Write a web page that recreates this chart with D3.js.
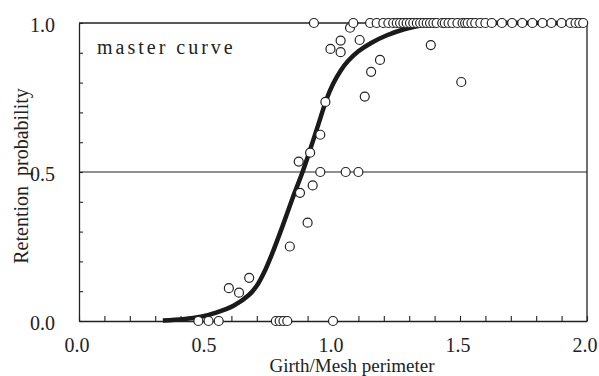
<!DOCTYPE html>
<html>
<head>
<meta charset="utf-8">
<script src="https://cdn.jsdelivr.net/npm/d3@7"></script>
<style>
	body { margin: 0; background: #fff; }
	svg { display: block; }
	text { font-family: "Liberation Serif", "Times New Roman", serif; fill: #222; }
</style>
</head>
<body>
<div id="graphic"></div>
<script>
const obsGirth = [
	0.47, 0.51, 0.55, 0.775, 0.79, 0.805, 0.82, 1.0,
	0.59, 0.63, 0.67, 0.83, 0.90, 0.87, 0.92, 0.865, 0.91,
	0.95, 1.05, 1.10,
	0.95, 0.97, 1.125, 1.15, 1.185, 1.385, 1.505, 0.99, 1.03, 1.03, 1.067, 1.105,
	0.925, 1.08, 1.146, 1.172, 1.198, 1.218, 1.237, 1.251, 1.264, 1.277, 1.29, 1.303,
	1.316, 1.33, 1.343, 1.356, 1.369, 1.382, 1.395, 1.408, 1.43, 1.44, 1.455, 1.47,
	1.49, 1.51, 1.52, 1.53, 1.545, 1.56, 1.58, 1.60, 1.625, 1.665, 1.705, 1.745,
	1.785, 1.825, 1.86, 1.90, 1.935, 1.955, 1.97, 1.985
];
const obsRetention = [
	0, 0, 0, 0, 0, 0, 0, 0,
	0.11, 0.095, 0.145, 0.25, 0.33, 0.43, 0.455, 0.535, 0.565,
	0.5, 0.5, 0.5,
	0.625, 0.735, 0.753, 0.836, 0.876, 0.926, 0.802, 0.913, 0.941, 0.902, 0.984, 0.943,
	1, 1, 1, 1, 1, 1, 1, 1, 1, 1, 1, 1,
	1, 1, 1, 1, 1, 1, 1, 1, 1, 1, 1, 1,
	1, 1, 1, 1, 1, 1, 1, 1, 1, 1, 1, 1,
	1, 1, 1, 1, 1, 1, 1, 1
];

// master curve
const curveGirth = [0.33, 0.41, 0.48, 0.54, 0.61, 0.67, 0.70, 0.73, 0.76, 0.80, 0.84, 0.88, 0.91,
	0.95, 0.975, 1.0, 1.03, 1.06, 1.10, 1.15, 1.21, 1.28, 1.34, 1.41, 1.5, 2.0];
const curveRetention = [0.002, 0.006, 0.014, 0.028, 0.052, 0.088, 0.118, 0.165, 0.225, 0.315, 0.41, 0.5, 0.575,
	0.68, 0.745, 0.795, 0.84, 0.873, 0.905, 0.933, 0.958, 0.979, 0.991, 0.997, 1.0, 1.0];

const xLabels = ["0.0", "0.5", "1.0", "1.5", "2.0"];
const yLabels = ["0.0", "0.5", "1.0"];

const width = 599, height = 376;
const margin = { top: 23, right: 12, bottom: 55, left: 79 };
const chartWidth = width - margin.left - margin.right;
const chartHeight = height - margin.top - margin.bottom;

const svg = d3.select('#graphic')
	.append('svg')
	.attr('width', width)
	.attr('height', height)
	.append('g')
	.attr('transform', 'translate(' + margin.left + ',' + margin.top + ')');

const x = d3.scaleLinear().domain([0, 2]).range([0, chartWidth]);
const y = d3.scaleLinear().domain([0, 1]).range([chartHeight, 0]);

const ink = '#222';

//frame: top and right lines plus the 0.5 reference line
svg.append('line')
	.attr('x1', 0).attr('x2', chartWidth)
	.attr('y1', y(1)).attr('y2', y(1))
	.attr('stroke', ink).attr('stroke-width', 1.3);
svg.append('line')
	.attr('x1', x(2)).attr('x2', x(2))
	.attr('y1', y(1)).attr('y2', y(0))
	.attr('stroke', ink).attr('stroke-width', 1.3);
svg.append('line')
	.attr('x1', 0).attr('x2', chartWidth)
	.attr('y1', y(0.5)).attr('y2', y(0.5))
	.attr('stroke', ink).attr('stroke-width', 1.1);

//axes with small inward ticks every 0.1
const xAxis = d3.axisBottom(x)
	.tickValues(d3.range(0, 21).map(i => i / 10))
	.tickSizeInner(-5)
	.tickSizeOuter(0)
	.tickFormat('');
const yAxis = d3.axisLeft(y)
	.tickValues(d3.range(0, 11).map(i => i / 10))
	.tickSizeInner(-4)
	.tickSizeOuter(0)
	.tickFormat('');

const gx = svg.append('g')
	.attr('transform', 'translate(0,' + chartHeight + ')')
	.call(xAxis);
const gy = svg.append('g').call(yAxis);
[gx, gy].forEach(g => {
	g.select('.domain').attr('stroke', ink).attr('stroke-width', 1.3);
	g.selectAll('.tick line').attr('stroke', ink).attr('stroke-width', 1.1);
});

//tick labels
svg.append('g')
	.selectAll('text')
	.data(xLabels)
	.join('text')
	.attr('x', d => x(+d) - 2)
	.attr('y', chartHeight + 31)
	.attr('text-anchor', 'middle')
	.attr('font-size', 20)
	.text(d => d);

svg.append('g')
	.selectAll('text')
	.data(yLabels)
	.join('text')
	.attr('x', -24)
	.attr('y', d => y(+d) + 9)
	.attr('text-anchor', 'end')
	.attr('font-size', 20)
	.text(d => d);

//axis titles
svg.append('text')
	.attr('x', 273)
	.attr('y', chartHeight + 51)
	.attr('text-anchor', 'middle')
	.attr('font-size', 19)
	.text('Girth/Mesh perimeter');

svg.append('text')
	.attr('transform', 'translate(' + (28 - margin.left) + ',' + (176 - margin.top) + ') rotate(-90)')
	.attr('text-anchor', 'middle')
	.attr('font-size', 20)
	.attr('xml:space', 'preserve')
	.text('Retention  probability');

svg.append('text')
	.attr('x', 18)
	.attr('y', 31)
	.attr('font-size', 20)
	.attr('letter-spacing', 3)
	.text('master curve');

//master curve
const line = d3.line()
	.x(d => x(d[0]))
	.y(d => y(d[1]))
	.curve(d3.curveCatmullRom.alpha(0.5));

svg.append('path')
	.datum(d3.zip(curveGirth, curveRetention))
	.attr('d', line)
	.attr('fill', 'none')
	.attr('stroke', '#1a1a1a')
	.attr('stroke-width', 4.5)
	.attr('stroke-linejoin', 'round');

//observations
svg.append('g')
	.selectAll('circle')
	.data(d3.zip(obsGirth, obsRetention))
	.join('circle')
	.attr('cx', d => x(d[0]))
	.attr('cy', d => y(d[1]))
	.attr('r', 4.5)
	.attr('fill', '#fff')
	.attr('stroke', ink)
	.attr('stroke-width', 1.2);
</script>
</body>
</html>
